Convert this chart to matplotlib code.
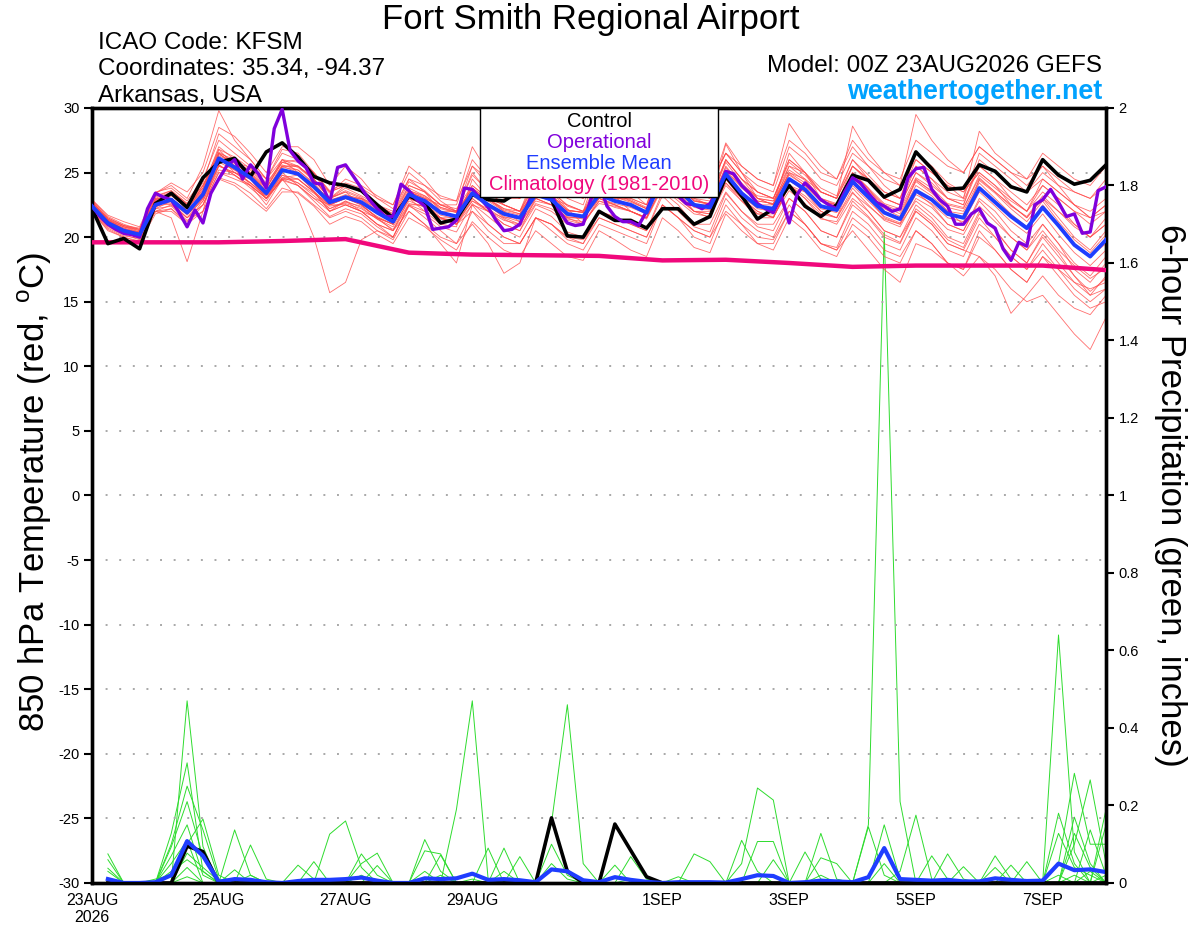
import numpy as np
import pandas as pd
import matplotlib
matplotlib.use('Agg')
import matplotlib.pyplot as plt
from matplotlib.patches import Rectangle

plt.rcParams['font.family'] = ['Liberation Sans', 'DejaVu Sans']
plt.rcParams['mathtext.fontset'] = 'custom'
plt.rcParams['mathtext.rm'] = 'Liberation Sans'
plt.rcParams['axes.unicode_minus'] = False

# ---- time axes ----
times = pd.date_range('2026-08-23 00:00', periods=65, freq='6h')
times_op = pd.date_range('2026-08-23 00:00', periods=129, freq='3h')
times_pcp = times[1:]
times_clim = pd.date_range('2026-08-23 00:00', periods=17, freq='1D')

tick_dates = pd.to_datetime(['2026-08-23', '2026-08-25', '2026-08-27', '2026-08-29',
                             '2026-09-01', '2026-09-03', '2026-09-05', '2026-09-07'])
tick_labels = ['23AUG\n2026', '25AUG', '27AUG', '29AUG', '1SEP', '3SEP', '5SEP', '7SEP']

# ---- 850 hPa temperature (C) ----
control = [22.2, 19.5, 19.9, 19.1, 22.6, 23.4, 22.3, 24.6, 25.8, 26.1, 24.7, 26.6, 27.3,
           26.2, 24.7, 24.2, 24.0, 23.6, 22.5, 21.5, 23.2, 22.6, 21.1, 21.4, 23.3, 22.9,
           22.8, 23.6, 23.6, 22.9, 20.1, 20.0, 22.0, 21.3, 21.3, 20.7, 22.2, 22.2, 21.0,
           21.6, 24.7, 23.2, 21.4, 22.2, 24.0, 22.4, 21.6, 22.5, 24.8, 24.4, 23.1, 23.7,
           26.6, 25.3, 23.7, 23.8, 25.6, 25.1, 23.9, 23.5, 26.0, 24.8, 24.1, 24.4, 25.6]

ens_mean = [22.4, 21.1, 20.5, 20.2, 22.5, 22.9, 21.9, 23.3, 26.1, 25.4, 24.6, 23.4, 25.2,
            24.9, 23.9, 22.7, 23.1, 22.7, 21.9, 21.2, 23.3, 22.8, 21.9, 21.6, 23.4, 22.5,
            21.8, 21.5, 23.3, 22.9, 21.8, 21.6, 23.3, 22.8, 22.5, 21.9, 24.6, 23.7, 22.5,
            22.3, 24.9, 23.4, 22.4, 22.2, 24.5, 23.7, 22.4, 22.1, 24.3, 23.1, 21.9, 21.4,
            23.6, 22.9, 21.8, 21.5, 23.8, 22.7, 21.6, 20.7, 22.3, 20.9, 19.4, 18.5, 19.8]

# operational run, 3-hourly
operational = [22.4, 21.6, 21.0, 20.6, 20.3, 20.2, 20.0, 22.2,
               23.4, 23.1, 22.9, 21.9, 20.8, 22.1, 21.1, 23.4,
               24.5, 25.5, 26.0, 24.5, 25.6, 24.9, 23.8, 28.4,
               29.9, 26.7, 25.9, 25.4, 24.2, 24.1, 22.7, 25.4,
               25.6, 24.7, 23.8, 22.9, 22.2, 21.6, 21.6, 24.1,
               23.6, 22.9, 22.4, 20.6, 20.7, 20.8, 21.3, 23.8,
               23.7, 23.0, 22.3, 21.3, 20.5, 20.6, 21.0, 22.5,
               24.0, 24.3, 23.3, 22.0, 21.1, 20.9, 21.0, 23.0,
               24.2, 22.4, 21.6, 21.2, 21.2, 20.9, 22.0, 23.5,
               24.5, 23.8, 23.2, 22.6, 22.5, 22.2, 22.6, 23.6,
               25.1, 24.9, 24.0, 23.4, 22.6, 22.2, 21.9, 23.2,
               21.1, 23.3, 24.2, 23.6, 22.9, 22.5, 22.2, 23.5,
               24.6, 24.2, 23.4, 22.7, 22.4, 22.0, 22.2, 24.6,
               25.3, 25.4, 23.7, 22.9, 22.4, 21.0, 21.0, 21.8,
               22.2, 21.1, 20.7, 19.1, 18.2, 19.6, 19.3, 22.5,
               22.9, 23.7, 22.7, 21.6, 21.8, 20.3, 20.4, 23.6,
               23.9]

climatology = [19.6, 19.6, 19.6, 19.7, 19.85, 18.8, 18.65, 18.6, 18.55, 18.2, 18.25,
               18.0, 17.7, 17.8, 17.8, 17.8, 17.45]

t01 = [22.9, 21.6, 21.0, 20.6, 23.4, 24.0, 23.0, 25.5, 29.8, 27.5, 26.0, 24.5, 26.0, 25.0, 23.5, 22.0, 22.8, 22.0, 21.0, 20.5, 23.0, 22.0, 21.0, 20.8, 24.5, 23.0, 22.0, 21.2, 24.0, 23.5, 22.2, 21.0, 24.5, 23.2, 22.0, 21.5, 25.5, 24.0, 22.8, 22.5, 26.0, 24.5, 23.0, 22.5, 26.5, 25.0, 23.0, 22.0, 25.0, 23.8, 22.0, 21.5, 24.5, 23.5, 22.0, 21.0, 24.5, 23.5, 22.5, 21.5, 23.0, 21.5, 20.0, 19.0, 20.5]
t02 = [22.0, 20.8, 20.2, 19.8, 22.0, 22.0, 21.0, 22.5, 25.0, 24.8, 24.0, 23.0, 24.5, 23.0, 20.0, 15.7, 16.5, 19.8, 20.5, 20.0, 22.5, 22.5, 21.5, 21.0, 23.0, 22.0, 21.0, 20.5, 22.5, 22.0, 21.0, 21.0, 22.8, 22.5, 22.0, 21.5, 24.0, 23.0, 22.0, 21.8, 24.2, 22.8, 21.5, 21.5, 24.0, 23.0, 21.8, 21.5, 23.5, 22.0, 20.5, 20.0, 22.5, 21.5, 20.0, 19.5, 22.0, 20.5, 19.0, 18.0, 20.0, 18.5, 17.0, 15.5, 17.0]
t03 = [22.8, 21.3, 20.6, 20.4, 22.0, 21.5, 18.1, 22.0, 26.5, 26.0, 25.0, 23.5, 25.5, 25.5, 24.5, 23.0, 24.0, 23.5, 22.5, 21.5, 24.0, 23.5, 22.0, 21.5, 24.0, 23.0, 22.5, 22.0, 24.5, 23.5, 22.5, 22.0, 24.0, 23.5, 23.0, 22.5, 25.5, 24.5, 23.5, 23.0, 26.0, 24.5, 23.5, 23.0, 25.5, 24.5, 23.0, 22.5, 25.5, 24.5, 23.0, 22.5, 25.0, 24.0, 23.0, 22.5, 25.5, 24.5, 23.5, 22.5, 24.0, 23.0, 22.0, 21.5, 22.5]
t04 = [22.1, 20.9, 20.3, 20.0, 23.0, 23.5, 22.5, 24.0, 26.5, 25.5, 24.5, 23.0, 24.5, 24.5, 23.5, 22.5, 23.0, 22.5, 21.5, 20.5, 22.5, 22.0, 21.5, 21.0, 22.0, 20.5, 19.5, 19.5, 21.5, 21.0, 19.8, 19.5, 21.5, 21.0, 20.5, 20.0, 22.5, 21.5, 20.5, 20.0, 22.0, 21.0, 19.5, 19.5, 22.0, 21.0, 19.5, 19.0, 21.5, 20.5, 19.0, 18.5, 20.5, 19.5, 18.0, 17.0, 18.5, 17.5, 16.0, 15.0, 15.5, 14.0, 12.5, 11.3, 13.8]
t05 = [22.6, 21.3, 20.8, 20.4, 22.8, 23.5, 22.5, 23.8, 27.0, 26.0, 25.0, 23.8, 25.8, 25.5, 24.5, 23.0, 23.8, 23.2, 22.5, 21.8, 24.0, 23.5, 22.5, 22.0, 25.5, 24.0, 23.0, 23.0, 25.5, 24.8, 23.8, 23.2, 26.0, 25.0, 24.5, 24.0, 26.5, 25.5, 24.5, 24.0, 26.5, 25.0, 24.0, 23.5, 27.0, 26.0, 24.5, 24.0, 26.5, 25.5, 24.5, 24.0, 29.5, 27.5, 26.0, 25.0, 27.0, 26.0, 25.0, 24.0, 25.5, 24.5, 23.5, 23.0, 24.5]
t06 = [22.3, 21.0, 20.4, 20.1, 22.3, 23.0, 22.0, 23.0, 25.5, 25.0, 24.5, 23.5, 25.5, 25.5, 24.5, 23.0, 23.5, 23.0, 22.0, 21.0, 23.5, 23.0, 22.5, 22.0, 25.0, 23.5, 22.5, 22.0, 24.0, 23.0, 22.5, 22.0, 25.5, 24.5, 23.5, 22.5, 26.5, 25.0, 24.0, 23.5, 27.3, 25.5, 24.5, 24.0, 28.8, 27.0, 25.5, 24.5, 27.0, 25.5, 24.0, 23.0, 26.0, 25.0, 24.0, 23.0, 26.5, 25.5, 24.5, 23.5, 25.0, 24.0, 22.5, 21.5, 22.0]
t07 = [22.5, 21.2, 20.7, 20.3, 23.0, 23.0, 22.0, 24.0, 26.0, 25.5, 24.0, 22.5, 24.5, 24.0, 23.0, 22.5, 22.5, 22.0, 21.0, 20.0, 22.5, 21.5, 20.5, 19.5, 21.0, 19.5, 17.2, 18.0, 21.5, 21.0, 20.0, 19.5, 22.0, 21.5, 21.0, 20.5, 23.5, 22.5, 21.0, 21.0, 23.5, 22.0, 21.0, 21.0, 23.0, 22.0, 20.5, 20.0, 22.5, 21.5, 20.0, 19.5, 22.0, 21.0, 19.5, 19.0, 21.5, 20.0, 18.5, 17.5, 19.0, 17.5, 16.0, 15.0, 16.0]
t08 = [22.2, 21.0, 20.6, 20.3, 22.8, 22.5, 21.5, 22.5, 25.5, 25.0, 24.5, 23.0, 25.0, 24.0, 23.0, 22.0, 22.5, 22.0, 21.0, 20.5, 22.0, 21.0, 19.5, 18.0, 22.5, 22.0, 21.0, 20.5, 23.0, 22.5, 21.5, 21.0, 23.0, 22.5, 22.0, 21.5, 24.5, 23.5, 22.0, 21.5, 24.5, 23.0, 22.0, 21.5, 24.0, 23.5, 22.0, 21.5, 24.5, 23.0, 21.5, 21.0, 23.5, 22.5, 21.0, 20.5, 23.0, 22.0, 20.5, 19.5, 21.0, 19.5, 18.0, 17.0, 18.5]
t09 = [22.7, 21.4, 20.8, 20.5, 22.5, 23.0, 22.0, 23.5, 26.5, 25.5, 24.5, 23.5, 25.5, 25.0, 24.0, 22.5, 23.0, 23.0, 22.5, 21.5, 23.5, 23.0, 22.0, 22.0, 23.5, 23.0, 22.5, 22.0, 23.5, 23.0, 22.0, 22.0, 23.5, 23.0, 23.0, 22.5, 25.0, 24.0, 23.0, 22.5, 25.5, 24.0, 23.0, 22.5, 25.0, 24.5, 23.5, 23.0, 25.5, 24.5, 23.5, 23.0, 25.5, 24.5, 23.5, 23.0, 28.2, 26.5, 25.5, 24.5, 25.5, 24.0, 23.5, 23.0, 24.0]
t10 = [22.4, 21.1, 20.4, 20.2, 22.6, 23.2, 22.3, 23.5, 26.8, 25.5, 24.8, 23.8, 26.0, 25.5, 24.5, 23.0, 23.5, 22.5, 21.5, 21.0, 23.5, 23.0, 22.0, 21.5, 23.5, 22.5, 21.5, 21.0, 23.0, 22.5, 21.5, 21.5, 23.5, 23.0, 22.5, 22.0, 25.0, 24.0, 22.5, 22.5, 25.0, 23.5, 22.5, 22.5, 25.5, 25.0, 23.5, 23.0, 28.6, 26.5, 25.0, 24.0, 26.0, 25.0, 24.0, 23.5, 25.0, 24.0, 22.5, 21.5, 23.0, 22.0, 21.0, 20.0, 21.5]
t11 = [22.0, 20.7, 20.1, 19.9, 22.0, 22.5, 21.5, 22.5, 25.0, 24.5, 24.0, 23.0, 24.5, 24.5, 23.5, 22.0, 22.5, 22.0, 21.5, 21.0, 23.0, 22.5, 21.5, 21.0, 22.5, 21.0, 20.0, 19.5, 21.5, 21.0, 20.0, 19.8, 21.5, 21.0, 20.5, 20.0, 22.5, 21.5, 20.5, 20.0, 23.0, 21.5, 20.5, 20.0, 22.5, 21.0, 19.5, 19.0, 20.5, 19.0, 17.5, 16.5, 19.5, 19.0, 18.0, 17.5, 20.5, 19.0, 17.5, 16.5, 18.5, 17.5, 16.5, 15.5, 16.0]
t12 = [22.6, 21.3, 20.5, 20.2, 22.4, 22.6, 21.8, 23.2, 26.0, 25.2, 24.2, 23.0, 24.8, 24.5, 23.5, 22.5, 23.0, 22.5, 21.5, 21.0, 23.0, 22.5, 21.5, 21.5, 23.0, 22.0, 21.5, 21.5, 23.0, 22.5, 21.5, 21.5, 23.0, 22.5, 22.0, 21.5, 24.0, 23.0, 22.0, 22.0, 24.5, 23.0, 22.0, 21.5, 24.0, 23.0, 21.5, 21.0, 23.0, 22.0, 20.5, 20.0, 22.0, 21.0, 19.5, 19.0, 18.5, 17.0, 14.1, 15.5, 17.0, 15.5, 14.5, 14.0, 15.5]
t13 = [22.9, 21.7, 21.2, 20.8, 23.5, 23.8, 22.8, 24.5, 27.5, 26.5, 25.5, 24.5, 26.5, 26.0, 25.0, 23.5, 24.0, 23.5, 22.5, 22.0, 24.5, 23.5, 22.5, 22.5, 26.0, 24.5, 23.5, 23.0, 26.0, 25.0, 24.0, 23.5, 26.5, 25.0, 24.5, 24.0, 27.0, 25.5, 24.5, 24.0, 26.5, 25.0, 23.5, 23.0, 26.0, 25.0, 23.5, 23.0, 26.0, 24.5, 23.0, 22.5, 25.5, 24.5, 23.0, 22.5, 26.0, 25.0, 24.0, 23.5, 24.5, 23.5, 22.5, 21.5, 22.5]
t14 = [22.2, 21.0, 20.4, 20.0, 22.2, 22.8, 21.8, 22.8, 25.2, 25.0, 24.2, 23.2, 24.8, 24.2, 23.2, 22.2, 22.8, 22.3, 21.4, 20.8, 22.8, 22.3, 21.5, 21.2, 22.8, 22.0, 21.3, 21.0, 22.8, 22.5, 21.3, 21.0, 22.8, 22.3, 22.0, 21.5, 24.0, 23.2, 22.0, 21.8, 24.2, 23.0, 21.8, 21.8, 24.0, 23.2, 22.0, 21.5, 23.8, 22.5, 21.3, 20.8, 23.0, 22.3, 21.0, 20.5, 22.8, 21.5, 20.0, 19.0, 21.0, 19.5, 17.5, 16.5, 18.0]
t15 = [22.5, 21.2, 20.6, 20.3, 22.7, 23.3, 22.2, 23.7, 26.3, 25.7, 24.8, 23.6, 25.6, 25.2, 24.2, 22.8, 23.3, 22.9, 22.1, 21.4, 23.6, 23.1, 22.2, 21.9, 23.7, 22.8, 22.0, 21.7, 23.6, 23.1, 22.1, 21.9, 23.6, 23.1, 22.7, 22.2, 24.9, 24.0, 22.8, 22.6, 25.4, 23.9, 22.8, 22.6, 25.0, 24.2, 22.8, 22.5, 24.9, 23.7, 22.5, 22.0, 24.4, 23.6, 22.5, 22.2, 24.8, 23.8, 22.8, 22.0, 24.5, 23.5, 22.5, 22.0, 23.0]
t16 = [22.3, 21.1, 20.5, 20.1, 22.6, 23.0, 22.1, 23.1, 25.8, 25.2, 24.7, 23.6, 25.4, 25.2, 24.1, 22.9, 23.2, 23.0, 22.2, 21.5, 23.6, 23.2, 22.3, 22.0, 23.8, 22.9, 22.2, 21.8, 23.9, 23.3, 22.1, 21.9, 23.8, 23.1, 22.8, 22.2, 25.2, 24.1, 22.9, 22.5, 27.2, 25.0, 23.0, 22.8, 24.8, 24.0, 22.8, 22.5, 24.6, 23.4, 22.2, 21.6, 24.0, 23.2, 22.0, 21.8, 24.2, 23.0, 21.8, 20.8, 22.5, 21.0, 19.5, 18.5, 19.5]
t17 = [22.0, 20.5, 20.0, 19.6, 21.8, 22.2, 21.2, 22.8, 25.6, 24.8, 23.8, 22.8, 24.6, 24.2, 23.4, 22.4, 22.6, 22.2, 21.4, 20.6, 22.6, 22.4, 21.4, 21.0, 22.8, 22.2, 21.4, 20.8, 22.6, 22.2, 21.4, 21.2, 22.6, 22.4, 22.0, 21.4, 23.8, 22.8, 21.8, 21.6, 24.0, 22.8, 21.8, 21.6, 23.6, 22.6, 21.4, 21.2, 23.4, 22.4, 21.4, 21.0, 22.8, 21.8, 20.6, 20.2, 22.4, 21.2, 20.0, 19.0, 20.5, 19.0, 17.8, 16.8, 17.6]
t18 = [22.8, 21.5, 20.9, 20.6, 23.2, 23.6, 22.6, 24.2, 28.0, 27.0, 26.0, 24.5, 26.8, 26.5, 25.0, 23.5, 24.0, 23.5, 22.5, 21.8, 24.3, 23.6, 22.5, 22.2, 24.0, 23.0, 22.2, 22.0, 24.2, 23.6, 22.4, 22.0, 24.5, 23.4, 22.8, 22.2, 25.5, 24.5, 23.0, 22.8, 25.8, 24.2, 23.0, 22.8, 25.2, 24.4, 23.0, 22.6, 25.0, 23.8, 22.6, 22.2, 24.6, 23.8, 22.6, 22.3, 24.6, 23.5, 22.4, 21.6, 23.2, 22.0, 20.8, 20.0, 21.0]
t19 = [22.4, 21.2, 20.7, 20.4, 22.9, 22.7, 21.5, 23.0, 26.2, 25.0, 24.2, 23.2, 24.6, 24.8, 23.6, 22.2, 22.7, 22.4, 21.6, 21.0, 23.2, 22.5, 21.7, 21.4, 23.2, 22.4, 21.6, 21.2, 23.2, 22.8, 21.6, 21.4, 23.0, 22.6, 22.3, 21.8, 24.4, 23.5, 22.3, 22.1, 24.6, 23.2, 22.2, 22.0, 24.4, 23.5, 22.2, 21.9, 24.0, 22.8, 21.6, 21.1, 23.3, 22.6, 21.5, 21.2, 23.5, 22.4, 21.2, 20.3, 21.8, 20.2, 18.8, 17.8, 19.0]
t20 = [22.6, 21.4, 20.9, 20.7, 22.9, 23.3, 22.4, 23.8, 26.6, 25.8, 25.2, 23.8, 25.8, 25.4, 24.4, 23.0, 23.6, 23.1, 22.2, 21.6, 23.8, 23.2, 22.3, 21.9, 23.8, 22.9, 22.1, 21.8, 23.7, 23.2, 22.1, 21.9, 23.7, 23.2, 22.9, 22.3, 25.0, 24.0, 22.8, 22.6, 25.2, 23.8, 22.8, 22.6, 24.9, 24.0, 22.8, 22.4, 24.8, 23.6, 22.4, 21.8, 24.3, 23.4, 22.3, 22.0, 24.4, 23.4, 22.2, 21.2, 22.8, 21.2, 19.8, 18.8, 20.2]
t21 = [22.7, 21.5, 20.9, 20.5, 23.1, 23.6, 22.6, 24.0, 26.8, 26.2, 25.3, 24.0, 26.0, 25.8, 24.8, 23.4, 24.5, 24.0, 23.2, 22.5, 25.5, 24.5, 23.0, 22.8, 27.0, 25.0, 23.5, 23.0, 26.0, 25.0, 23.5, 23.0, 27.0, 25.5, 24.5, 23.5, 27.0, 25.5, 24.5, 24.0, 26.5, 25.5, 24.5, 24.0, 27.5, 26.5, 25.0, 24.5, 27.5, 26.0, 25.0, 24.5, 27.5, 26.5, 25.5, 25.0, 27.0, 26.0, 25.0, 24.5, 26.5, 25.5, 24.5, 24.0, 25.5]
t22 = [21.9, 20.6, 20.0, 19.7, 22.2, 22.4, 21.3, 22.0, 24.6, 24.2, 23.4, 22.2, 23.8, 23.4, 22.4, 21.0, 21.6, 21.2, 20.2, 19.5, 21.5, 20.8, 19.8, 19.0, 21.2, 20.0, 19.0, 18.5, 20.5, 19.5, 18.5, 18.2, 20.5, 19.8, 19.0, 18.5, 21.5, 20.5, 19.2, 18.8, 21.8, 20.5, 19.5, 19.0, 21.5, 20.5, 19.0, 18.5, 21.0, 20.0, 18.5, 18.0, 20.5, 19.5, 18.0, 17.5, 20.0, 19.0, 17.5, 16.5, 18.5, 17.0, 15.5, 14.5, 15.0]
t23 = [22.5, 21.3, 20.8, 20.6, 23.4, 24.2, 23.5, 25.0, 28.5, 27.8, 26.5, 25.0, 27.0, 27.0, 26.0, 24.0, 25.5, 24.5, 23.0, 22.5, 25.0, 24.0, 22.8, 22.0, 24.8, 23.6, 22.5, 22.0, 25.0, 24.2, 23.0, 22.5, 25.8, 24.6, 23.8, 23.0, 26.5, 25.0, 23.5, 23.0, 26.0, 24.5, 23.5, 23.0, 25.8, 24.8, 23.5, 23.0, 25.5, 24.3, 23.0, 22.5, 25.0, 24.2, 23.0, 22.8, 25.5, 24.5, 23.0, 22.0, 23.5, 22.5, 21.0, 20.0, 21.0]
t24 = [22.3, 21.0, 20.3, 20.0, 22.0, 22.2, 21.0, 22.0, 24.5, 24.0, 23.0, 22.0, 23.5, 23.5, 22.5, 21.5, 22.0, 21.5, 20.5, 19.8, 22.0, 21.0, 20.0, 19.5, 22.0, 21.0, 20.0, 19.5, 21.5, 20.5, 19.5, 19.0, 21.0, 20.5, 20.0, 19.5, 22.5, 21.5, 20.0, 19.5, 22.5, 21.0, 20.0, 19.8, 22.0, 21.0, 19.5, 19.2, 22.0, 21.0, 19.5, 19.0, 21.5, 20.5, 19.0, 18.5, 21.0, 20.0, 18.5, 17.5, 19.5, 18.0, 16.5, 16.0, 16.5]
t25 = [22.6, 21.4, 20.6, 20.3, 22.9, 23.4, 22.4, 23.6, 26.4, 25.8, 25.4, 24.2, 25.8, 26.0, 25.0, 23.6, 24.2, 23.8, 23.0, 22.2, 24.5, 24.0, 23.2, 22.8, 25.5, 24.5, 23.5, 23.0, 25.0, 24.5, 23.5, 23.0, 25.0, 24.5, 24.0, 23.5, 26.2, 25.0, 24.0, 23.5, 25.0, 24.0, 23.2, 23.0, 26.0, 25.0, 23.8, 23.2, 26.0, 24.8, 23.5, 23.0, 26.5, 25.5, 24.2, 23.5, 25.0, 24.0, 23.0, 22.0, 24.0, 23.0, 22.0, 21.0, 22.0]
t26 = [22.2, 20.9, 20.3, 20.1, 22.4, 22.9, 21.7, 23.0, 25.6, 24.8, 24.0, 23.0, 24.4, 24.0, 22.8, 21.6, 22.2, 21.8, 20.8, 20.0, 22.4, 21.8, 20.8, 20.4, 22.6, 21.6, 20.6, 20.0, 22.2, 21.6, 20.4, 20.0, 22.0, 21.6, 21.0, 20.5, 23.2, 22.0, 20.8, 20.4, 23.4, 22.0, 20.8, 20.5, 23.0, 22.0, 20.5, 20.0, 22.8, 21.6, 20.2, 19.6, 22.2, 21.2, 19.8, 19.2, 21.8, 20.6, 19.0, 18.0, 20.2, 18.8, 17.0, 15.8, 16.8]
temp_members = [t01, t02, t03, t04, t05, t06, t07, t08, t09, t10, t11, t12, t13,
                t14, t15, t16, t17, t18, t19, t20, t21, t22, t23, t24, t25, t26]

# ---- 6-hour precipitation (inches), steps 1..64 ----
pcp_control = {6: .095, 7: .081, 29: .168, 30: .03, 33: .152, 34: .084, 35: .016}
pcp_mean = [.01, 0, 0, .002, .02, .108, .07, .003, .01, .008, .002, 0, .005, .008, .008, .01,
            .014, .006, 0, 0, .012, .01, .012, .024, .008, .01, .007, .002, .035, .03, .007, .002,
            .015, .008, .003, 0, .002, .002, .002, .001, .01, .02, .018, 0, .002, .006, .004, .002,
            .015, .09, .01, .008, .006, .008, .004, .004, .012, .008, .005, .006, .05, .033, .035, .028]
g01 = {1: .012, 6: .47, 7: .094, 22: .072, 49: .15, 50: 1.68, 51: .21, 62: .02}
g02 = {5: .128, 6: .31, 7: .03, 25: .09, 51: .03, 52: .175, 53: .01, 61: .02}
g03 = {5: .10, 6: .25, 7: .137, 8: .01, 26: .09, 53: .07, 54: .01}
g04 = {5: .093, 6: .21, 7: .068, 27: .068, 54: .075, 55: .01, 63: .03}
g05 = {4: .01, 5: .02, 6: .10, 7: .165, 8: .02, 29: .10, 30: .02, 55: .042, 64: .02}
g06 = {5: .07, 6: .15, 7: .02, 21: .03, 29: .05, 30: .01, 57: .07, 58: .01}
g07 = {5: .05, 6: .11, 9: .137, 10: .02, 33: .046, 46: .02, 57: .04}
g08 = {6: .077, 7: .04, 8: .005, 17: .02, 34: .068, 35: .01, 58: .046}
g09 = {6: .04, 10: .098, 11: .01, 38: .075, 39: .055, 59: .055}
g10 = {6: .016, 13: .046, 14: .01, 37: .016, 61: .64, 62: .08}
g11 = {5: .03, 6: .06, 7: .03, 41: .11, 42: .03, 61: .18, 62: .05}
g12 = {1: .075, 14: .055, 41: .05, 42: .245, 43: .214, 61: .128, 62: .04, 63: .02}
g13 = {1: .06, 15: .126, 16: .16, 17: .04, 42: .107, 43: .107, 61: .05, 62: .283, 63: .10, 64: .10}
g14 = {1: .038, 17: .075, 18: .02, 22: .02, 43: .06, 62: .17, 63: .05}
g15 = {1: .03, 17: .05, 18: .077, 24: .01, 45: .08, 46: .01, 62: .128, 63: .04}
g16 = {1: .012, 18: .045, 46: .128, 47: .01, 62: .10, 63: .266, 64: .05}
g17 = {9: .034, 21: .112, 22: .03, 46: .065, 47: .05, 63: .137, 64: .02}
g18 = {21: .083, 22: .075, 34: .01, 49: .145, 50: .02, 64: .19}
g19 = {10: .02, 23: .19, 24: .47, 25: .01, 50: .15, 51: .01, 64: .15}
g20 = {26: .03, 29: .155, 30: .46, 31: .05, 50: .05}
pcp_members = [g01, g02, g03, g04, g05, g06, g07, g08, g09, g10,
               g11, g12, g13, g14, g15, g16, g17, g18, g19, g20]


def steps_to_array(d):
    arr = np.zeros(64)
    for k, v in d.items():
        arr[k - 1] = v
    return arr


c_red = '#ff4a4a'
c_green = '#2edc2e'
c_op = '#8000dc'
c_mean = '#1f3dff'
c_clim = '#f0087c'

fig = plt.figure(figsize=(12, 9.27), dpi=100)
ax = fig.add_axes([0.0767, 0.0475, 0.8450, 0.836])
ax2 = ax.twinx()

# precipitation (right axis)
for m in pcp_members:
    ax2.plot(times_pcp, steps_to_array(m), color=c_green, lw=0.7, zorder=1)
ax2.plot(times_pcp, steps_to_array(pcp_control), color='black', lw=2.6, zorder=3)
ax2.plot(times_pcp, pcp_mean, color=c_mean, lw=3.0, zorder=4)
ax2.set_ylim(0, 2)
ax2.set_yticks(np.arange(0, 2.01, 0.2))
ax2.set_yticklabels(['0', '0.2', '0.4', '0.6', '0.8', '1', '1.2', '1.4', '1.6', '1.8', '2'])

# temperature (left axis), drawn above the precip axis
ax.set_zorder(ax2.get_zorder() + 1)
ax.patch.set_visible(False)
for m in temp_members:
    ax.plot(times, m, color=c_red, lw=0.6, alpha=0.8, zorder=2)
ax.plot(times_clim, climatology, color=c_clim, lw=3.2, zorder=3)
ax.plot(times, control, color='black', lw=2.6, zorder=4)
ax.plot(times_op, operational, color=c_op, lw=2.4, zorder=5)
ax.plot(times, ens_mean, color=c_mean, lw=2.8, zorder=6)

ax.set_ylim(-30, 30)
ax.set_yticks(np.arange(-30, 31, 5))
ax.set_xlim(times[0], times[-1])
ax.set_xticks(tick_dates)
ax.set_xticklabels(tick_labels)
ax.yaxis.grid(True, linestyle=(0, (1, 6)), color='#a8a8a8', lw=1.4)

for a in (ax, ax2):
    for s in a.spines.values():
        s.set_linewidth(2.4)
ax.tick_params(axis='y', direction='out', length=6, width=1.5, labelsize=10.5, pad=3)
ax2.tick_params(axis='y', direction='out', length=6, width=1.5, labelsize=10.5, pad=3)
ax.tick_params(axis='x', length=0, labelsize=11.5, pad=7)

fig.text(0.029, 0.469, r'850 hPa Temperature (red, $^{\mathrm{o}}$C)', fontsize=25,
         rotation=90, ha='center', va='center')
fig.text(0.975, 0.466, '6-hour Precipitation (green, inches)', fontsize=25,
         rotation=270, ha='center', va='center')

# legend box
ax.add_patch(Rectangle((0.3826, 0.885), 0.2348, 0.115, transform=ax.transAxes,
                       facecolor='white', edgecolor='black', lw=1.0, zorder=10))
for y, txt, col in [(0.983, 'Control', 'black'), (0.956, 'Operational', c_op),
                    (0.929, 'Ensemble Mean', c_mean), (0.901, 'Climatology (1981-2010)', c_clim)]:
    ax.text(0.5, y, txt, color=col, fontsize=14.5, ha='center', va='center',
            transform=ax.transAxes, zorder=11)

# header text
fig.text(0.492, 0.9785, 'Fort Smith Regional Airport', fontsize=25, ha='center', va='center')
fig.text(0.0817, 0.9535, 'ICAO Code: KFSM', fontsize=17.5, ha='left', va='center')
fig.text(0.0817, 0.9255, 'Coordinates: 35.34, -94.37', fontsize=17.5, ha='left', va='center')
fig.text(0.0817, 0.8965, 'Arkansas, USA', fontsize=17.5, ha='left', va='center')
fig.text(0.9183, 0.9288, 'Model: 00Z 23AUG2026 GEFS', fontsize=17.5, ha='right', va='center')
fig.text(0.9183, 0.9008, 'weathertogether.net', fontsize=19.4, fontweight='bold',
         color='#00a2ff', ha='right', va='center')

fig.savefig('out.png', dpi=100)
